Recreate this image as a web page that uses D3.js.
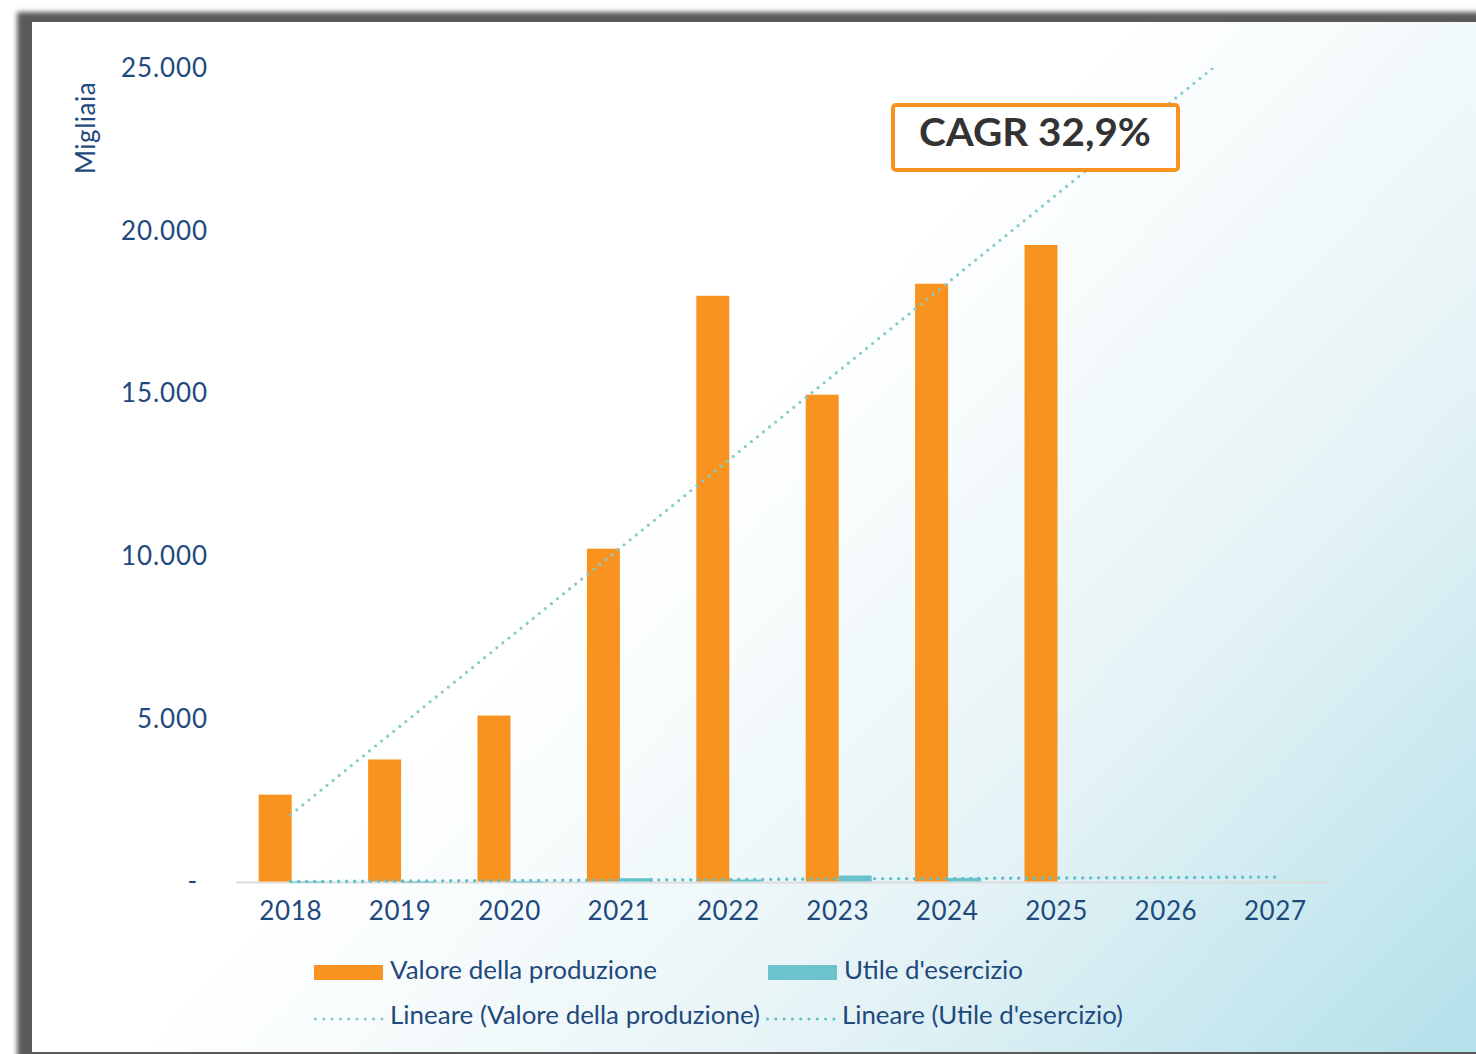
<!DOCTYPE html>
<html>
<head>
<meta charset="utf-8">
<script src="https://cdn.jsdelivr.net/npm/d3@7"></script>
<style>
  body { margin: 0; background: #fff; }
  svg { display: block; }
  text { font-family: Lato, "Open Sans", sans-serif; }
</style>
</head>
<body>
<div id="chart"></div>
<script>
// data (migliaia)
var years = ["2018", "2019", "2020", "2021", "2022", "2023", "2024", "2025", "2026", "2027"];
var dataYears = ["2018", "2019", "2020", "2021", "2022", "2023", "2024", "2025"];
var valore = [2670, 3750, 5100, 10230, 18000, 14960, 18370, 19560];
var utile = [-20, -20, 5, 100, 60, 185, 110, 0];
var yTicks = [0, 5000, 10000, 15000, 20000, 25000];
var yTitle = "Migliaia";
var cagrLabel = "CAGR 32,9%";
var legendLabels = ["Valore della produzione", "Utile d'esercizio",
  "Lineare (Valore della produzione)", "Lineare (Utile d'esercizio)"];

var W = 1476, H = 1054;
var ORANGE = "#f7931e", TEAL = "#6cc3cc", TREND1 = "#84ccc8", TREND2 = "#5fc0cb";
var BLUE = "#1f497d";

var svg = d3.select("#chart").append("svg")
  .attr("width", W).attr("height", H);

var defs = svg.append("defs");
var blur = defs.append("filter").attr("id", "blur")
  .attr("x", "-5%").attr("y", "-5%").attr("width", "110%").attr("height", "110%");
blur.append("feGaussianBlur").attr("stdDeviation", 2.5);

// background: white on the left, light blue towards the bottom right
var grad = defs.append("linearGradient").attr("id", "bg")
  .attr("gradientUnits", "userSpaceOnUse")
  .attr("x1", 780).attr("y1", 380).attr("x2", W).attr("y2", H);
grad.append("stop").attr("offset", 0).attr("stop-color", "#ffffff");
grad.append("stop").attr("offset", 0.5).attr("stop-color", "#e5f3f6");
grad.append("stop").attr("offset", 1).attr("stop-color", "#b3e0ea");

// frame
svg.append("rect").attr("width", W).attr("height", H).attr("fill", "#fff");
svg.append("rect").attr("x", 17).attr("y", 12).attr("width", W + 20).attr("height", H + 20)
  .attr("fill", "#5a5a5a").attr("filter", "url(#blur)");
svg.append("rect").attr("x", 32).attr("y", 22).attr("width", W - 32).attr("height", 1030)
  .attr("fill", "url(#bg)");

// scales
var x = d3.scaleBand().domain(years).range([236, 1330]);
var y = d3.scaleLinear().domain([0, 25000]).range([881.5, 68]);
var barW = 33;

defs.append("clipPath").attr("id", "plot")
  .append("rect").attr("x", 0).attr("y", y(25000)).attr("width", W).attr("height", H);

// y axis
var yAxis = svg.append("g")
  .attr("transform", "translate(215,0)")
  .call(d3.axisLeft(y).tickValues(yTicks).tickSize(0).tickPadding(7)
    .tickFormat(function (d) { return d === 0 ? "-" : d3.format(",")(d).replace(/,/g, "."); }));
yAxis.select(".domain").remove();
yAxis.selectAll("text")
  .style("font-family", "Lato, sans-serif")
  .style("font-size", "26px")
  .style("letter-spacing", "0.9px")
  .attr("fill", BLUE)
  .attr("dx", function (d) { return d === 0 ? -10 : 0; });

svg.append("text")
  .attr("transform", "translate(95,128) rotate(-90)")
  .attr("text-anchor", "middle")
  .attr("fill", BLUE)
  .style("font-size", "26px")
  .style("letter-spacing", "0.5px")
  .text(yTitle);

// baseline
svg.append("line")
  .attr("x1", 236).attr("x2", 1330)
  .attr("y1", y(0) + 1).attr("y2", y(0) + 1)
  .attr("stroke", "#dcdcdc").attr("stroke-width", 2);

// bars
svg.append("g").selectAll("rect")
  .data(valore)
  .enter().append("rect")
  .attr("x", function (d, i) { return x(dataYears[i]) + x.bandwidth() / 2 - barW + 1; })
  .attr("y", function (d) { return y(d); })
  .attr("width", barW)
  .attr("height", function (d) { return y(0) - y(d); })
  .attr("fill", ORANGE);

svg.append("g").selectAll("rect")
  .data(utile)
  .enter().append("rect")
  .attr("x", function (d, i) { return x(dataYears[i]) + x.bandwidth() / 2 + 1; })
  .attr("y", function (d) { return y(Math.max(0, d)); })
  .attr("width", barW)
  .attr("height", function (d) { return d === 0 ? 0 : Math.max(1, Math.abs(y(0) - y(d))); })
  .attr("fill", TEAL);

// linear trendlines (least squares, forecast 2 periods forward)
function trend(vals) {
  var n = vals.length, mx = (n - 1) / 2, my = d3.mean(vals);
  var sxy = d3.sum(vals, function (v, i) { return (i - mx) * (v - my); });
  var sxx = d3.sum(vals, function (v, i) { return (i - mx) * (i - mx); });
  var b = sxy / sxx, a = my - b * mx;
  return years.map(function (yr, i) { return [yr, a + b * i]; });
}
var line = d3.line()
  .x(function (d) { return x(d[0]) + x.bandwidth() / 2; })
  .y(function (d) { return y(d[1]); });

svg.append("path")
  .datum(trend(valore))
  .attr("clip-path", "url(#plot)")
  .attr("d", line)
  .attr("fill", "none")
  .attr("stroke", TREND1)
  .attr("stroke-width", 3.2)
  .attr("stroke-linecap", "round")
  .attr("stroke-dasharray", "0 7.8");

svg.append("path")
  .datum(trend(utile))
  .attr("d", line)
  .attr("fill", "none")
  .attr("stroke", TREND2)
  .attr("stroke-width", 3.4)
  .attr("stroke-linecap", "round")
  .attr("stroke-dasharray", "0 8");

// x axis labels
var xAxis = svg.append("g")
  .attr("transform", "translate(0," + (y(0) + 1) + ")")
  .call(d3.axisBottom(x).tickSize(0).tickPadding(19));
xAxis.select(".domain").remove();
xAxis.selectAll("text")
  .style("font-family", "Lato, sans-serif")
  .style("font-size", "26px")
  .style("letter-spacing", "0.6px")
  .attr("fill", BLUE);

// CAGR box
svg.append("rect")
  .attr("x", 893).attr("y", 105).attr("width", 285).attr("height", 65)
  .attr("rx", 3)
  .attr("fill", "#fff")
  .attr("stroke", ORANGE).attr("stroke-width", 4);
svg.append("text")
  .attr("x", 919).attr("y", 146)
  .attr("textLength", 232).attr("lengthAdjust", "spacingAndGlyphs")
  .attr("fill", "#333")
  .style("font-size", "38px").style("font-weight", 700)
  .text(cagrLabel);

// legend
var legendPos = [
  { x: 314, y: 979, textW: 267, type: "rect", color: ORANGE },
  { x: 768, y: 979, textW: 179, type: "rect", color: TEAL },
  { x: 314, y: 1024, textW: 370, type: "dots", color: TREND1 },
  { x: 766, y: 1024, textW: 281, type: "dots", color: TREND2 }
];
var leg = svg.append("g").selectAll("g")
  .data(legendLabels)
  .enter().append("g")
  .attr("transform", function (d, i) { return "translate(" + legendPos[i].x + "," + legendPos[i].y + ")"; });

leg.each(function (d, i) {
  var g = d3.select(this), p = legendPos[i];
  if (p.type === "rect") {
    g.append("rect").attr("x", 0).attr("y", -14).attr("width", 69).attr("height", 15).attr("fill", p.color);
  } else {
    g.append("line").attr("x1", 1.5).attr("x2", 68).attr("y1", -5).attr("y2", -5)
      .attr("stroke", p.color).attr("stroke-width", 3).attr("stroke-linecap", "round")
      .attr("stroke-dasharray", "0 8.3");
  }
  g.append("text")
    .attr("x", 76)
    .attr("textLength", p.textW).attr("lengthAdjust", "spacingAndGlyphs")
    .attr("fill", BLUE)
    .style("font-size", "25px")
    .text(d);
});
</script>
</body>
</html>
